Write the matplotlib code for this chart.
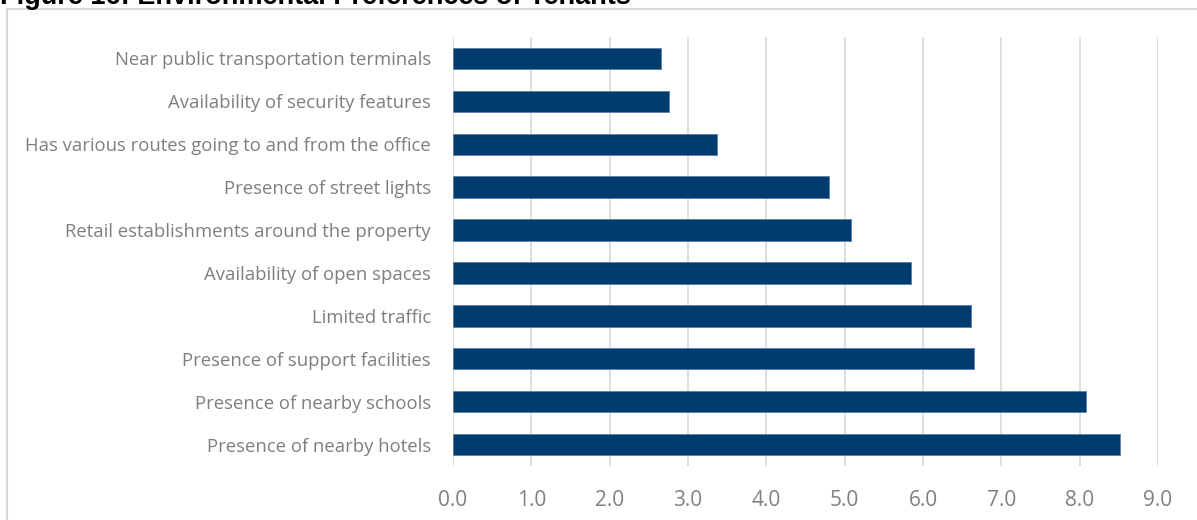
import matplotlib
matplotlib.use("Agg")
import matplotlib.pyplot as plt
from matplotlib.patches import Rectangle

categories = [
    "Near public transportation terminals",
    "Availability of security features",
    "Has various routes going to and from the office",
    "Presence of street lights",
    "Retail establishments around the property",
    "Availability of open spaces",
    "Limited traffic",
    "Presence of support facilities",
    "Presence of nearby schools",
    "Presence of nearby hotels",
]
scores = [2.66, 2.76, 3.37, 4.80, 5.08, 5.85, 6.61, 6.65, 8.08, 8.52]
x_ticks = [0.0, 1.0, 2.0, 3.0, 4.0, 5.0, 6.0, 7.0, 8.0, 9.0]
title = "Figure 16: Environmental Preferences of Tenants"

W, H = 1197, 520
fig = plt.figure(figsize=(W / 100, H / 100), dpi=100)
fig.patch.set_facecolor("white")

# chart frame (runs off the right and bottom edges)
fig.patches.append(Rectangle((7 / W, -0.1), 1.2, 1.1 - 9 / H, transform=fig.transFigure,
                             fill=False, edgecolor="#d9d9d9", linewidth=1.5, zorder=0))

fig.text(0.0, 1 - 4.5 / H, title, fontsize=19.5, fontweight="bold",
         family=["Liberation Sans", "DejaVu Sans"], va="baseline", ha="left", color="black")

ax = fig.add_axes([453 / W, 1 - 466 / H, (1158 - 453) / W, (466 - 37) / H])
pos = list(range(len(categories)))
ax.barh(pos, scores, height=0.5, color="#003b6f", edgecolor="#5a7fa6", linewidth=0.6, zorder=3)
ax.set_ylim(len(categories) - 0.5, -0.5)
ax.set_xlim(0, 9.0)
ax.set_xticks(x_ticks)
ax.set_xticklabels([f"{v:.1f}" for v in x_ticks], fontsize=15, color="#808080",
                   family="Open Sans")
ax.set_yticks(pos)
ax.set_yticklabels(categories, fontsize=13.3, color="#7f7f7f", family="Open Sans")
ax.tick_params(axis="x", length=0, pad=17)
ax.tick_params(axis="y", length=0, pad=16)
ax.grid(axis="x", color="#d9d9d9", linewidth=1.2, zorder=0)
for s in ax.spines.values():
    s.set_visible(False)
ax.set_facecolor("none")

fig.savefig("out.png", dpi=100)
